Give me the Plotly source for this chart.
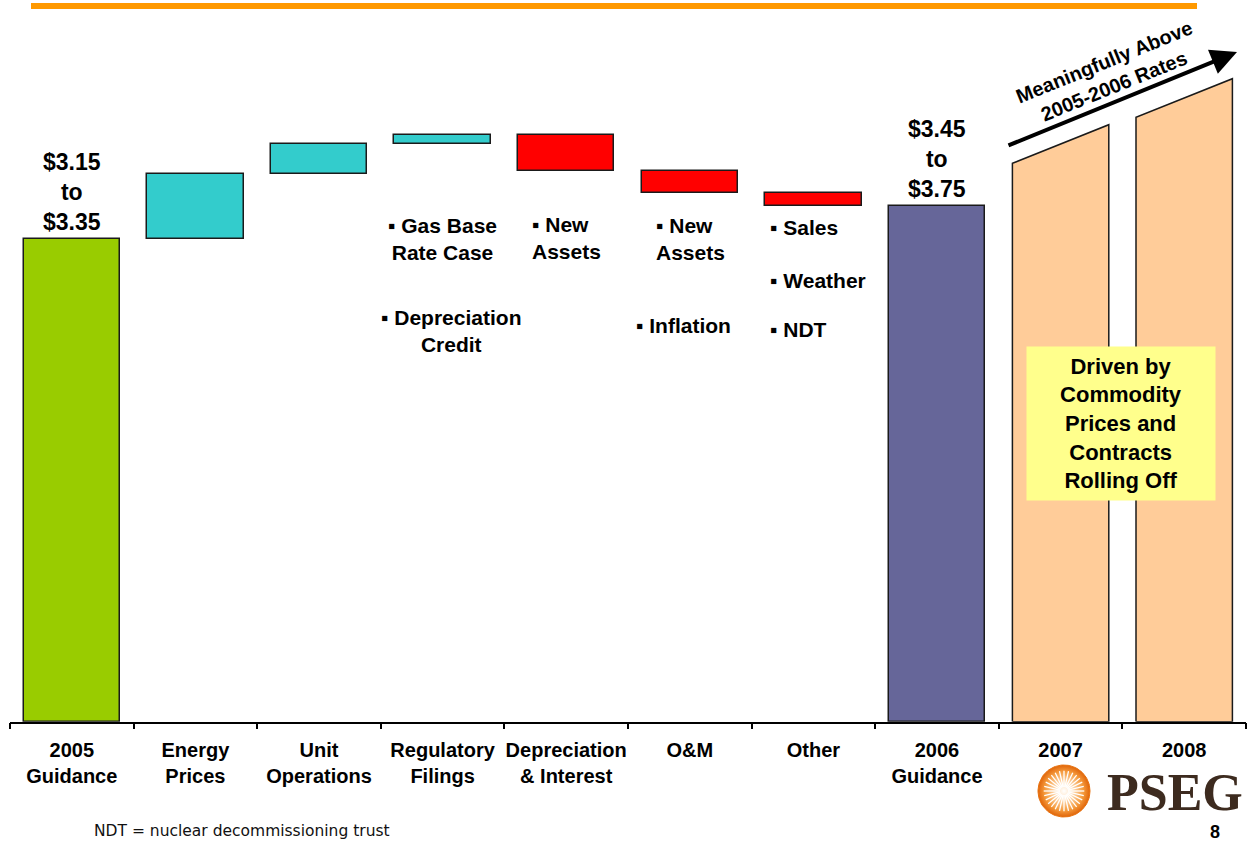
import numpy as np
import plotly.graph_objects as go

W, H = 1249, 841

# ---- data -------------------------------------------------------------
categories = ["2005<br>Guidance", "Energy<br>Prices", "Unit<br>Operations",
              "Regulatory<br>Filings", "Depreciation<br>& Interest", "O&M",
              "Other", "2006<br>Guidance", "2007", "2008"]

eps_2005 = 3.25                                   # start bar (guidance midpoint, illustrative scale)
step_changes = [0.44, 0.20, 0.06, -0.24, -0.15, -0.09]   # Energy .. Other
outlook_left = [3.76, 4.07]                       # 2007, 2008 slanted tops (left edge)
outlook_right = [4.02, 4.33]                      # 2007, 2008 slanted tops (right edge)

range_text = {0: "$3.15<br>to<br>$3.35", 7: "$3.45<br>to<br>$3.75"}

drivers = [
    # (category index, text, x offset in categories, y px, anchor, align)
    (3, "▪ Gas Base<br>Rate Case", 0.00, 239, "center", "center"),
    (3, "▪ Depreciation<br>Credit", 0.07, 331, "center", "center"),
    (4, "▪ New<br>Assets", -0.29, 238, "left", "left"),
    (5, "▪ New<br>Assets", -0.29, 239, "left", "left"),
    (5, "▪ Inflation", -0.05, 325, "center", "center"),
    (6, "▪ Sales", -0.37, 227, "left", "left"),
    (6, "▪ Weather", -0.37, 280, "left", "left"),
    (6, "▪ NDT", -0.37, 329, "left", "left"),
]

# ---- colours ----------------------------------------------------------
C_START, C_UP, C_DOWN, C_TOTAL, C_OUT = "#99CC00", "#33CCCC", "#FF0000", "#666699", "#FFCC99"
EDGE = "#1a1a1a"
BAR_W = 0.78

# ---- waterfall geometry from the data ---------------------------------
bases, heights, colors = [0.0], [eps_2005], [C_START]
level = eps_2005
for d in step_changes:
    bases.append(level)
    heights.append(d)
    colors.append(C_UP if d >= 0 else C_DOWN)
    level += d
bases.append(0.0)
heights.append(level)
colors.append(C_TOTAL)

AXIS_Y = 721.7           # pixel row of the category axis
PX_PER_UNIT = 148.5
Y_MAX = AXIS_Y / PX_PER_UNIT

fig = go.Figure()

fig.add_trace(go.Bar(
    x=list(range(len(heights))), y=heights, base=bases, width=BAR_W,
    marker=dict(color=colors, line=dict(color=EDGE, width=1.5)),
    hoverinfo="skip", showlegend=False))

for k, (yl, yr) in enumerate(zip(outlook_left, outlook_right)):
    i = 8 + k
    x0, x1 = i - BAR_W / 2, i + BAR_W / 2
    fig.add_trace(go.Scatter(
        x=[x0, x0, x1, x1, x0], y=[0, yl, yr, 0, 0], mode="lines",
        fill="toself", fillcolor=C_OUT, line=dict(color=EDGE, width=1.5),
        hoverinfo="skip", showlegend=False))

# ---- PSEG sunburst logo on a pixel overlay ----------------------------
cx, cy, r = 1064, 791, 26
t = np.linspace(0, 2 * np.pi, 90)
fig.add_trace(go.Scatter(
    x=cx + r * np.cos(t), y=cy + r * np.sin(t), mode="lines", fill="toself",
    fillgradient=dict(type="radial",
                      colorscale=[[0, "#FFFFFF"], [0.3, "#FFE2C0"], [0.75, "#F59A3C"], [1, "#E0650A"]]),
    line=dict(color="#E8720F", width=1), xaxis="x2", yaxis="y2",
    hoverinfo="skip", showlegend=False))
ray_x, ray_y = [], []
for a in np.linspace(0, 2 * np.pi, 28, endpoint=False):
    ray_x += [cx + 4 * np.cos(a), cx + 0.78 * r * np.cos(a), None]
    ray_y += [cy + 4 * np.sin(a), cy + 0.78 * r * np.sin(a), None]
fig.add_trace(go.Scatter(
    x=ray_x, y=ray_y, mode="lines", line=dict(color="white", width=1.3),
    xaxis="x2", yaxis="y2", hoverinfo="skip", showlegend=False))


def px(x):
    return x / W


def py(y):
    return 1 - y / H


FONT = "Liberation Sans, Arial, sans-serif"
annotations = []

# range labels above the guidance bars
for i, txt in range_text.items():
    top = bases[i] + heights[i]
    annotations.append(dict(
        x=i, y=top, xref="x", yref="y", text=txt, showarrow=False,
        xanchor="center", yanchor="bottom", yshift=2,
        font=dict(family=FONT, size=23, weight="bold", color="black")))

# driver bullet notes
for i, txt, dx, ypix, anchor, align in drivers:
    annotations.append(dict(
        x=i + dx, y=py(ypix), xref="x", yref="paper", text=txt, showarrow=False,
        xanchor=anchor, yanchor="middle", align=align,
        font=dict(family=FONT, size=21, weight="bold", color="black")))

# outlook arrow and its caption
annotations.append(dict(
    x=px(1237), y=py(52), xref="paper", yref="paper", text="", showarrow=True,
    ax=-230, ay=94, axref="pixel", ayref="pixel",
    arrowhead=2, arrowsize=1.3, arrowwidth=4, arrowcolor="black"))
annotations.append(dict(
    x=px(1109), y=py(74), xref="paper", yref="paper",
    text="Meaningfully Above<br>2005-2006 Rates", showarrow=False, textangle=-22,
    xanchor="center", yanchor="middle",
    font=dict(family=FONT, size=20, weight="bold", color="black")))

# commodity note box
annotations.append(dict(
    x=px(1121), y=py(423.5), xref="paper", yref="paper",
    text="Driven by<br>Commodity<br>Prices and<br>Contracts<br>Rolling Off",
    showarrow=False, xanchor="center", yanchor="middle", width=186, height=151,
    bgcolor="#FFFF8C", borderpad=1,
    font=dict(family=FONT, size=22, weight="bold", color="black")))

# footer
annotations.append(dict(
    x=px(92), y=py(831), xref="paper", yref="paper",
    text="NDT = nuclear decommissioning trust", showarrow=False,
    xanchor="left", yanchor="middle",
    font=dict(family="DejaVu Sans, sans-serif", size=15.5, color="#111111")))
annotations.append(dict(
    x=px(1215), y=py(832), xref="paper", yref="paper", text="8", showarrow=False,
    xanchor="center", yanchor="middle",
    font=dict(family=FONT, size=18, weight="bold", color="black")))
annotations.append(dict(
    x=px(1175), y=py(792), xref="paper", yref="paper", text="PSEG", showarrow=False,
    xanchor="center", yanchor="middle",
    font=dict(family="Liberation Serif, Times New Roman, serif", size=52, weight="bold",
              color="#3D2B1F")))

shapes = [dict(type="rect", xref="paper", yref="paper",
               x0=px(31), x1=px(1197), y0=py(9), y1=py(3),
               fillcolor="#FF9900", line=dict(width=0), layer="above")]

fig.update_layout(
    width=W, height=H, margin=dict(l=0, r=0, t=0, b=0),
    paper_bgcolor="white", plot_bgcolor="rgba(0,0,0,0)",
    showlegend=False, bargap=0,
    xaxis=dict(domain=[px(10), px(1246)], range=[-0.5, 9.5],
               tickmode="array", tickvals=list(range(10)), ticktext=categories,
               ticks="", showline=True, linecolor="black", linewidth=1.5,
               showgrid=False, zeroline=False, fixedrange=True,
               ticklabelstandoff=10,
               tickfont=dict(family=FONT, size=20, weight="bold", color="black"),
               minor=dict(tickmode="array", tickvals=[i - 0.5 for i in range(11)],
                          ticks="outside", ticklen=6, tickwidth=1.5, tickcolor="black",
                          showgrid=False)),
    yaxis=dict(domain=[1 - AXIS_Y / H, 1], range=[0, Y_MAX], visible=False,
               fixedrange=True),
    xaxis2=dict(domain=[0, 1], range=[0, W], visible=False, anchor="y2",
                fixedrange=True),
    yaxis2=dict(domain=[0, 1], range=[H, 0], visible=False, anchor="x2",
                fixedrange=True),
    annotations=annotations, shapes=shapes,
)

fig.write_html("out.html")
